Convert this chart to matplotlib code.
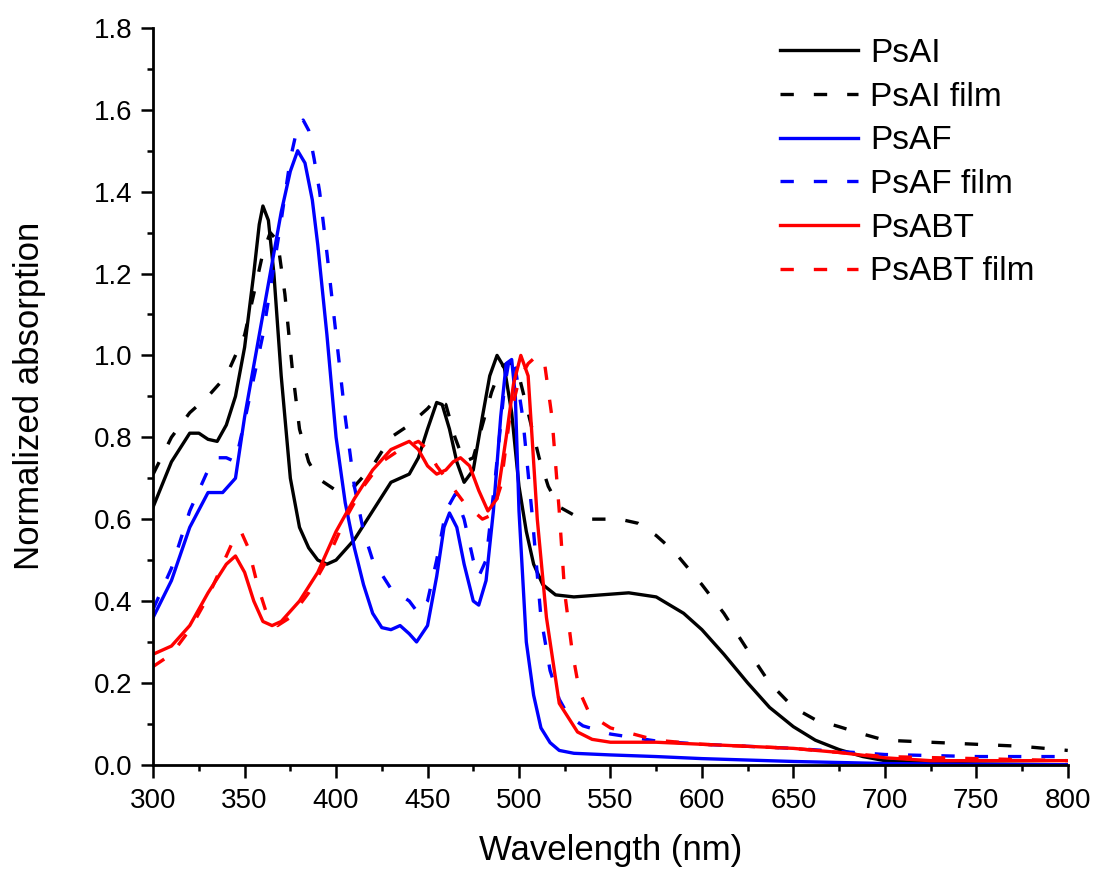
import matplotlib
matplotlib.use('Agg')
import matplotlib.pyplot as plt
from matplotlib.ticker import MultipleLocator

plt.rcParams['font.family'] = ['Liberation Sans', 'DejaVu Sans']

# ---- data (wavelength nm, normalized absorption) ----
psai_wl = [300, 310, 320, 325, 330, 335, 340, 345, 350, 355, 358, 360, 363, 366, 370, 375, 380,
           385, 390, 395, 400, 410, 420, 430, 440, 445, 450, 455, 458, 462, 466, 470, 475, 480,
           484, 488, 492, 496, 500, 504, 508, 513, 520, 530, 545, 560, 575, 590, 600, 612, 625,
           637, 650, 662, 675, 688, 700, 725, 750, 800]
psai = [0.63, 0.74, 0.81, 0.81, 0.795, 0.79, 0.83, 0.90, 1.02, 1.20, 1.32, 1.365, 1.33, 1.20,
        0.95, 0.70, 0.58, 0.53, 0.50, 0.49, 0.50, 0.55, 0.62, 0.69, 0.71, 0.75, 0.82, 0.885,
        0.88, 0.82, 0.74, 0.69, 0.72, 0.85, 0.95, 1.00, 0.97, 0.86, 0.68, 0.57, 0.49, 0.44,
        0.415, 0.41, 0.415, 0.42, 0.41, 0.37, 0.33, 0.27, 0.20, 0.14, 0.093, 0.06, 0.037, 0.02,
        0.01, 0.004, 0.002, 0.0]

psai_film_wl = [300, 310, 320, 330, 340, 350, 355, 360, 364, 368, 372, 376, 380, 385, 390, 400,
                410, 420, 430, 440, 450, 455, 460, 465, 470, 475, 480, 485, 490, 495, 500, 505,
                511, 516, 522, 530, 540, 555, 565, 575, 585, 600, 612, 625, 637, 650, 662, 675,
                688, 700, 725, 750, 775, 800]
psai_film = [0.71, 0.80, 0.86, 0.90, 0.95, 1.05, 1.15, 1.25, 1.30, 1.28, 1.15, 0.97, 0.82, 0.74,
             0.70, 0.67, 0.68, 0.73, 0.80, 0.83, 0.87, 0.895, 0.88, 0.80, 0.74, 0.75, 0.83, 0.91,
             0.97, 0.985, 0.95, 0.86, 0.75, 0.68, 0.63, 0.61, 0.60, 0.60, 0.59, 0.56, 0.52, 0.44,
             0.37, 0.28, 0.20, 0.14, 0.11, 0.093, 0.075, 0.06, 0.055, 0.05, 0.045, 0.035]

psaf_wl = [300, 310, 320, 330, 338, 345, 350, 360, 370, 375, 379, 383, 387, 390, 395, 400, 405,
           410, 415, 420, 425, 430, 435, 440, 444, 450, 455, 459, 462, 466, 470, 475, 478, 482,
           486, 490, 493, 496, 498, 500, 504, 508, 512, 517, 522, 530, 550, 575, 600, 650, 700,
           750, 800]
psaf = [0.36, 0.45, 0.58, 0.665, 0.665, 0.70, 0.85, 1.10, 1.35, 1.45, 1.50, 1.47, 1.38, 1.27,
        1.05, 0.80, 0.64, 0.53, 0.44, 0.37, 0.335, 0.33, 0.34, 0.32, 0.30, 0.34, 0.46, 0.58,
        0.615, 0.58, 0.49, 0.40, 0.39, 0.45, 0.62, 0.85, 0.98, 0.99, 0.90, 0.62, 0.30, 0.17,
        0.09, 0.054, 0.035, 0.028, 0.024, 0.02, 0.015, 0.008, 0.003, 0.001, 0.0]

psaf_film_wl = [300, 310, 320, 330, 335, 340, 345, 350, 360, 370, 375, 379, 382, 385, 388, 391,
                395, 400, 405, 410, 415, 420, 430, 440, 445, 450, 455, 460, 465, 470, 475, 478,
                482, 487, 492, 495, 498, 502, 507, 512, 517, 522, 527, 535, 550, 575, 600, 650,
                700, 750, 800]
psaf_film = [0.38, 0.48, 0.62, 0.72, 0.75, 0.75, 0.74, 0.84, 1.05, 1.33, 1.48, 1.56, 1.575,
             1.55, 1.48, 1.40, 1.25, 1.05, 0.85, 0.68, 0.57, 0.50, 0.43, 0.40, 0.37, 0.40, 0.50,
             0.62, 0.66, 0.60, 0.50, 0.46, 0.50, 0.70, 0.92, 1.00, 0.97, 0.85, 0.62, 0.36, 0.23,
             0.16, 0.12, 0.095, 0.075, 0.058, 0.05, 0.04, 0.025, 0.02, 0.02]

psabt_wl = [300, 310, 320, 330, 340, 345, 350, 355, 360, 365, 370, 380, 390, 400, 410, 420, 430,
            440, 445, 450, 455, 460, 464, 468, 473, 478, 483, 488, 493, 497, 501, 505, 510, 515,
            522, 532, 540, 550, 575, 600, 625, 650, 675, 700, 725, 750, 800]
psabt = [0.27, 0.29, 0.34, 0.42, 0.49, 0.51, 0.47, 0.40, 0.35, 0.34, 0.35, 0.40, 0.47, 0.57,
         0.65, 0.72, 0.77, 0.79, 0.77, 0.73, 0.71, 0.72, 0.74, 0.75, 0.73, 0.67, 0.62, 0.65,
         0.80, 0.93, 1.00, 0.95, 0.60, 0.36, 0.15, 0.08, 0.062, 0.055, 0.055, 0.05, 0.045, 0.04,
         0.03, 0.017, 0.01, 0.01, 0.01]

psabt_film_wl = [300, 310, 320, 330, 340, 345, 348, 352, 357, 362, 368, 375, 385, 395, 405, 415,
                 425, 435, 445, 450, 455, 460, 465, 470, 475, 480, 485, 490, 495, 500, 505, 510,
                 514, 518, 522, 525, 529, 533, 538, 543, 550, 575, 600, 650, 700, 750, 800]
psabt_film = [0.24, 0.27, 0.33, 0.41, 0.51, 0.56, 0.57, 0.53, 0.44, 0.37, 0.34, 0.36, 0.42,
              0.50, 0.60, 0.68, 0.74, 0.77, 0.79, 0.77, 0.73, 0.70, 0.67, 0.64, 0.62, 0.60,
              0.61, 0.68, 0.85, 0.94, 0.98, 1.00, 0.98, 0.85, 0.62, 0.42, 0.28, 0.18, 0.13,
              0.11, 0.09, 0.06, 0.05, 0.04, 0.02, 0.015, 0.01]

series = [
    (psai_wl, psai, 'black', '-', 'PsAI'),
    (psai_film_wl, psai_film, 'black', '--', 'PsAI film'),
    (psaf_wl, psaf, '#0000ff', '-', 'PsAF'),
    (psaf_film_wl, psaf_film, '#0000ff', '--', 'PsAF film'),
    (psabt_wl, psabt, '#ff0000', '-', 'PsABT'),
    (psabt_film_wl, psabt_film, '#ff0000', '--', 'PsABT film'),
]

fig = plt.figure(figsize=(10.94, 8.73), dpi=100)
ax = fig.add_axes([0.14, 0.124, 0.836, 0.844])

for wl, val, color, ls, label in series:
    style = (0, (4, 6)) if ls == '--' else '-'
    ax.plot(wl, val, color=color, linestyle=style, linewidth=2.4, label=label)

ax.set_xlim(300, 800)
ax.set_ylim(0, 1.8)
ax.xaxis.set_major_locator(MultipleLocator(50))
ax.xaxis.set_minor_locator(MultipleLocator(25))
ax.yaxis.set_major_locator(MultipleLocator(0.2))
ax.yaxis.set_minor_locator(MultipleLocator(0.1))
ax.yaxis.set_major_formatter(plt.FormatStrFormatter('%.1f'))

for side in ['top', 'right']:
    ax.spines[side].set_visible(False)
for side in ['left', 'bottom']:
    ax.spines[side].set_linewidth(2.0)

ax.tick_params(which='major', direction='out', length=9, width=1.8, labelsize=20)
ax.tick_params(which='minor', direction='out', length=4.5, width=1.8)
ax.tick_params(axis='y', which='major', pad=6)
ax.tick_params(axis='x', which='major', pad=8)

ax.set_xlabel('Wavelength (nm)', fontsize=25, labelpad=14)
ax.set_ylabel('Normalized absorption', fontsize=25, labelpad=34)

leg = ax.legend(loc='upper left', bbox_to_anchor=(780 / 1094, 1 - 38 / 873),
                bbox_transform=fig.transFigure, frameon=False, fontsize=24,
                handlelength=2.35, handletextpad=0.36, labelspacing=0.38,
                borderpad=0, borderaxespad=0)

fig.savefig('out.png', dpi=100)
